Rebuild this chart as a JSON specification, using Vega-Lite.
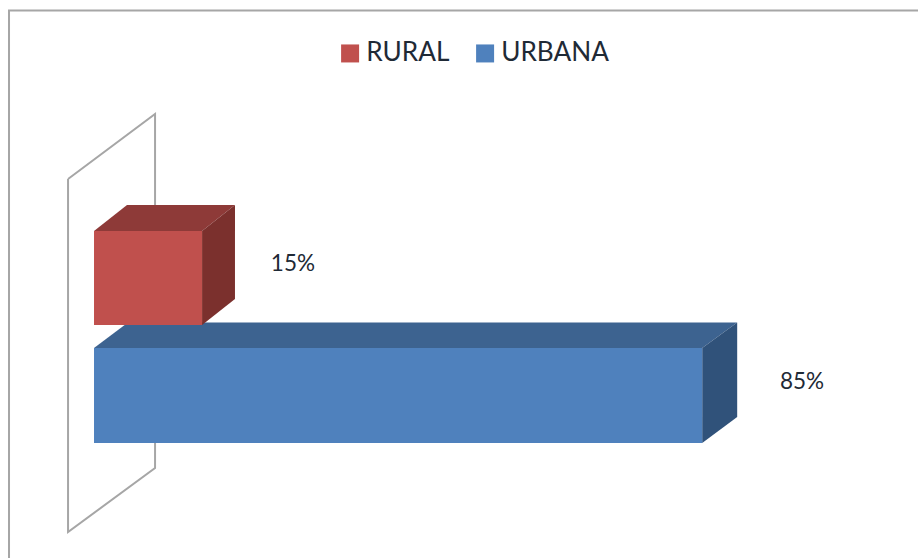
{
 "$schema":"https://vega.github.io/schema/vega-lite/v6.json",
 "width":918,"height":558,"padding":0,"autosize":{"type":"none"},
 "background":"white","view":{"stroke":null},
 "config":{"font":"Lato"},
 "layer":[
  {"data":{"values":[{"x":-11.88,"y":-1.217,"o":1},{"x":-11.88,"y":4.577,"o":2},{"x":115.16,"y":4.577,"o":3}]},
   "mark":{"type":"line","stroke":"#A6A6A6","strokeWidth":2},
   "encoding":{"x":{"field":"x","type":"quantitative","scale":{"domain":[-13.14,115.16],"nice":false,"zero":false},"axis":null},
    "y":{"field":"y","type":"quantitative","scale":{"domain":[-1.217,4.688],"nice":false,"zero":false},"axis":null},
    "order":{"field":"o"}}},
  {"data":{"values":[{"x":-3.63,"y":2.794,"o":1},{"x":8.53,"y":3.481,"o":2},{"x":8.53,"y":-0.265,"o":3},{"x":-3.63,"y":-0.942,"o":4},{"x":-3.63,"y":2.794,"o":5}]},
   "mark":{"type":"line","stroke":"#A6A6A6","strokeWidth":2},
   "encoding":{"x":{"field":"x","type":"quantitative"},"y":{"field":"y","type":"quantitative"},"order":{"field":"o"}}},
  {"data":{"values":[
    {"face":"URBANA top","x":0,"y":1.005,"y2":1.005},
    {"face":"URBANA top","x":4.75,"y":1.275,"y2":1.005},
    {"face":"URBANA top","x":85,"y":1.275,"y2":1.005},
    {"face":"URBANA top","x":89.89,"y":1.275,"y2":1.275},
    {"face":"URBANA side","x":85,"y":1.005,"y2":0},
    {"face":"URBANA side","x":89.89,"y":1.275,"y2":0.275},
    {"face":"URBANA","x":0,"y":1.005,"y2":0},
    {"face":"URBANA","x":85,"y":1.005,"y2":0},
    {"face":"RURAL top","x":0,"y":2.243,"y2":2.243},
    {"face":"RURAL top","x":4.61,"y":2.519,"y2":2.243},
    {"face":"RURAL top","x":15.1,"y":2.519,"y2":2.243},
    {"face":"RURAL top","x":19.7,"y":2.519,"y2":2.519},
    {"face":"RURAL side","x":15.1,"y":2.243,"y2":1.249},
    {"face":"RURAL side","x":19.7,"y":2.519,"y2":1.524},
    {"face":"RURAL","x":0,"y":2.243,"y2":1.249},
    {"face":"RURAL","x":15.1,"y":2.243,"y2":1.249}
   ]},
   "mark":{"type":"area","orient":"vertical"},
   "encoding":{"x":{"field":"x","type":"quantitative"},
    "y":{"field":"y","type":"quantitative","stack":null},
    "y2":{"field":"y2"},
    "fill":{"field":"face","type":"nominal",
      "scale":{"domain":["RURAL","URBANA","RURAL top","RURAL side","URBANA top","URBANA side"],
               "range":["#C0504D","#4F81BD","#8E3A38","#7B302D","#3D6390","#30527A"]},
      "legend":{"values":["RURAL","URBANA"],"title":null,"orient":"none","legendX":337,"legendY":40,"direction":"horizontal","columns":2,
        "symbolType":"square","symbolSize":324,"symbolStrokeWidth":0,"labelFontSize":26.2,"labelColor":"#1F2A36","labelFont":"Lato","labelOffset":3,"columnPadding":22,"symbolOpacity":1}}}},
  {"data":{"values":[{"series":"RURAL","value":27.8,"y":1.895,"label":"15%"},{"series":"URBANA","value":98.95,"y":0.645,"label":"85%"}]},
   "mark":{"type":"text","fontSize":22.5,"font":"Lato","color":"#1F2A36","align":"center","baseline":"middle"},
   "encoding":{"x":{"field":"value","type":"quantitative"},"y":{"field":"y","type":"quantitative"},"text":{"field":"label"}}}
 ]
}
